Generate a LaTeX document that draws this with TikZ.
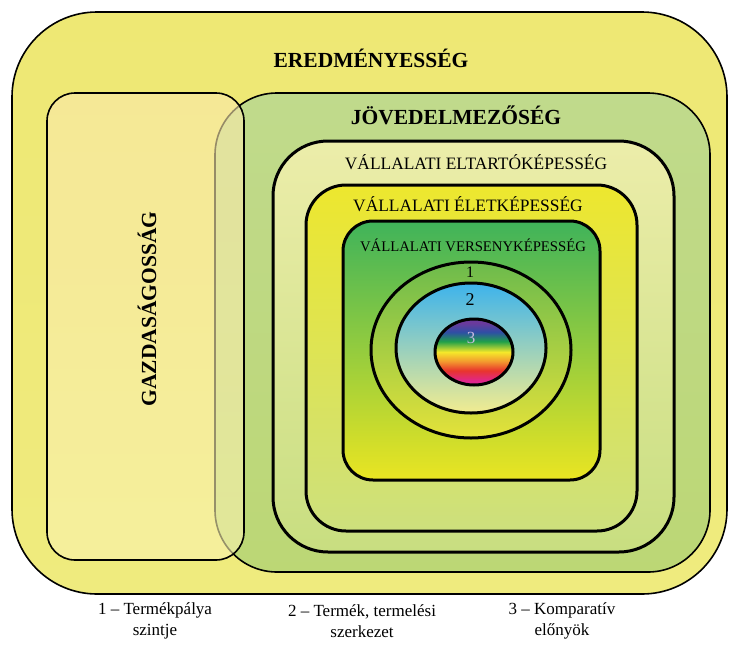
\documentclass[tikz,border=0pt]{standalone}
\usepackage{fontspec}
\setmainfont{Liberation Serif}

\definecolor{rbmag}{HTML}{E0268F}
\definecolor{rbred}{HTML}{E8352C}
\definecolor{rborange}{HTML}{F39A2E}
\definecolor{rbyellow}{HTML}{F4E82A}
\definecolor{rbgreen}{HTML}{1FA04A}
\definecolor{rbblue}{HTML}{2E4FA5}
\definecolor{rbpurple}{HTML}{6B3A9C}
\pgfdeclareverticalshading{rainbow}{100bp}{color(0bp)=(rbmag); color(28bp)=(rbmag);
  color(36bp)=(rbred); color(43bp)=(rborange); color(50bp)=(rbyellow);
  color(58bp)=(rbgreen); color(65bp)=(rbblue); color(72bp)=(rbpurple); color(100bp)=(rbpurple)}

\begin{document}
\begin{tikzpicture}[x=1pt,y=-1pt,
    thinframe/.style={draw=black,line width=1.6pt},
    thickframe/.style={draw=black,line width=3pt},
    title/.style={font=\fontsize{21.5}{24}\selectfont\bfseries},
    level/.style={font=\fontsize{#1}{#1}\selectfont},
    level/.default=17.4,
    note/.style={font=\fontsize{17}{21}\selectfont,align=center}]

  \useasboundingbox (0,0) rectangle (730,645);

  % outer frame and the two big fields
  \shade[thinframe,rounded corners=85pt,top color={rgb,255:red,238;green,232;blue,116},
    middle color={rgb,255:red,249;green,247;blue,214},bottom color={rgb,255:red,239;green,235;blue,126}]
    (12,12) rectangle (727,594);
  \shade[thinframe,rounded corners=62pt,top color={rgb,255:red,192;green,218;blue,140},
    middle color={rgb,255:red,222;green,236;blue,176},bottom color={rgb,255:red,188;green,215;blue,117}]
    (215,93) rectangle (710,572);
  \shade[thinframe,rounded corners=28pt,fill opacity=0.6,top color={rgb,255:red,250;green,232;blue,172},
    middle color={rgb,255:red,252;green,247;blue,204},bottom color={rgb,255:red,250;green,243;blue,176}]
    (47,93) rectangle (244,560);

  % nested company levels
  \shade[thickframe,rounded corners=55pt,top color={rgb,255:red,236;green,237;blue,170},
    bottom color={rgb,255:red,200;green,222;blue,128}]
    (273,141) rectangle (674,552);
  \shade[thickframe,rounded corners=40pt,top color={rgb,255:red,237;green,231;blue,46},
    bottom color={rgb,255:red,205;green,224;blue,125}]
    (306,185) rectangle (637,531);
  \shade[thickframe,rounded corners=30pt,top color={rgb,255:red,63;green,179;blue,90},
    middle color={rgb,255:red,168;green,207;blue,72},bottom color={rgb,255:red,234;green,229;blue,34}]
    (343,221) rectangle (600,480);

  % circles
  \shade[thickframe,top color={rgb,255:red,108;green,187;blue,76},bottom color={rgb,255:red,228;green,226;blue,58}]
    (471,350) ellipse [x radius=100,y radius=88];
  \shade[thickframe,top color={rgb,255:red,61;green,179;blue,236},middle color={rgb,255:red,160;green,210;blue,205},
    bottom color={rgb,255:red,242;green,236;blue,144}]
    (471,348) ellipse [x radius=75,y radius=65];
  \shade[thickframe,shading=rainbow] (474,352) ellipse [x radius=39,y radius=33];

  \node[title] at (371,58) (eredm) {EREDMÉNYESSÉG};
  \node[title] at (456,115) (jov) {JÖVEDELMEZŐSÉG};
  \node[title,rotate=90] at (147,309) (gazd) {GAZDASÁGOSSÁG};
  \node[level] at (476,162) (eltart) {VÁLLALATI ELTARTÓKÉPESSÉG};
  \node[level] at (468,204) (eletk) {VÁLLALATI ÉLETKÉPESSÉG};
  \node[level=14.7] at (473,245) (versk) {VÁLLALATI VERSENYKÉPESSÉG};
  \node[level=16] at (470,272) (one) {1};
  \node[level=18] at (470,300) (two) {2};
  \node[level=17,text={rgb,255:red,200;green,184;blue,224}] at (471,338) (three) {3};

  \node[note] at (155,621) (notea) {1 – Termékpálya\\szintje};
  \node[note] at (362,621) (noteb) {2 – Termék, termelési\\szerkezet};
  \node[note] at (562,621) (notec) {3 – Komparatív\\előnyök};

\end{tikzpicture}
\end{document}
